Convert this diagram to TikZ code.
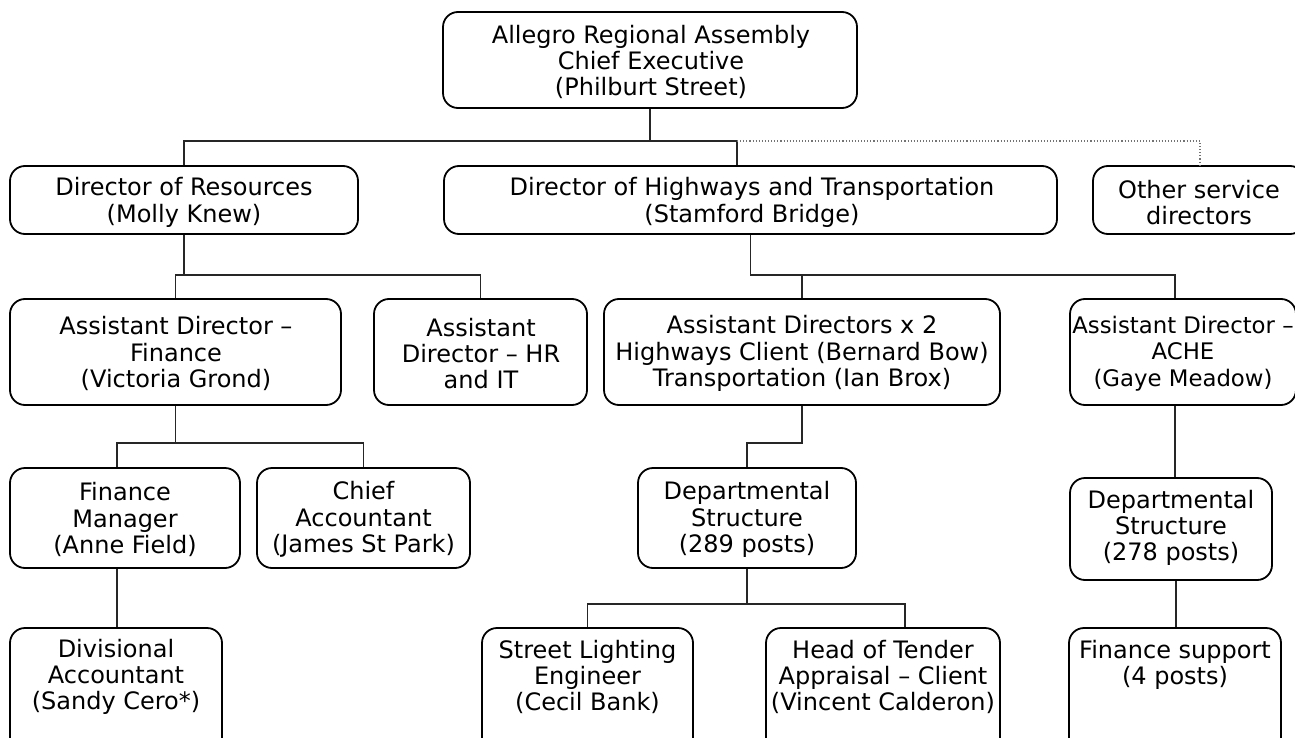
\documentclass[tikz,border=0pt]{standalone}
\usepackage{fontspec}
\setmainfont{DejaVu Sans}
% \orgunit[text options]{name}{box x}{box y}{width}{height}{text x}{text y}{text}
\newcommand\orgunit[9][]{%
  \node[orgbox, minimum width=#5pt, minimum height=#6pt] (#2) at (#3,#4) {};
  \node[orgtext,#1] (#2-text) at (#7,#8) {#9};}
\begin{document}
\begin{tikzpicture}[x=1pt,y=-1pt,
  orgbox/.style={draw=black, line width=1.8pt, rounded corners=15pt, inner sep=0pt},
  orgtext/.style={inner sep=0pt, align=center, font=\fontsize{24}{26.3}\selectfont},
  conn/.style={draw=black!85, line width=1.3pt},
  dotconn/.style={draw=black!55, line width=1.1pt, dotted}]
\useasboundingbox (0,0) rectangle (1295,738);
\clip (0,0) rectangle (1295,738);

\coordinate (bus1) at (0,141);
\coordinate (bus2) at (0,275);
\coordinate (bus3) at (0,443);
\coordinate (bus4) at (0,604);

% level 1
\orgunit{top}{650}{60}{414}{96}{651}{62}{Allegro Regional Assembly\\Chief Executive\\(Philburt Street)}
% level 2
\orgunit{res}{184}{200}{348}{68}{184}{202.5}{Director of Resources\\(Molly Knew)}
\orgunit{hwy}{750.5}{200}{613}{68}{752}{202.5}{Director of Highways and Transportation\\(Stamford Bridge)}
\orgunit{oth}{1199}{200}{212}{68}{1199}{202.5}{Other service\\directors}
% level 3
\orgunit{adf}{175.5}{352}{331}{106}{176}{353.5}{Assistant Director --\\Finance\\(Victoria Grond)}
\orgunit{adh}{480.5}{352}{213}{106}{481}{353.5}{Assistant\\Director -- HR\\and IT}
\orgunit{adx}{802}{352}{396}{106}{802}{353.5}{Assistant Directors x 2\\Highways Client (Bernard Bow)\\Transportation (Ian Brox)}
\orgunit[font=\fontsize{22.8}{26.3}\selectfont]{ach}{1183}{352}{226}{106}{1183}{353.5}{Assistant Director --\\ACHE\\(Gaye Meadow)}
% level 4
\orgunit{fm}{125}{518}{230}{100}{125}{519.5}{Finance\\Manager\\(Anne Field)}
\orgunit{ca}{363.5}{518}{213}{100}{363.5}{519.5}{Chief\\Accountant\\(James St Park)}
\orgunit{dsa}{747}{518}{218}{100}{747}{519.5}{Departmental\\Structure\\(289 posts)}
\orgunit{dsb}{1171}{529}{202}{102}{1171}{528}{Departmental\\Structure\\(278 posts)}
% level 5 (cut by the page edge)
\orgunit{da}{116}{699}{212}{142}{116}{677}{Divisional\\Accountant\\(Sandy Cero*)}
\orgunit{sl}{587.5}{699}{211}{142}{587.5}{677}{Street Lighting\\Engineer\\(Cecil Bank)}
\orgunit{ht}{883}{699}{234}{142}{883}{677}{Head of Tender\\Appraisal -- Client\\(Vincent Calderon)}
\orgunit{fs}{1175}{699}{212}{142}{1175}{665}{Finance support\\(4 posts)}

% connectors level 1-2
\draw[conn] (top.south) -- (top.south |- bus1);
\draw[conn] (res.north) |- ([xshift=-13.5pt]hwy.north |- bus1) -- ([xshift=-13.5pt]hwy.north);
\draw[dotconn] ([xshift=-13.5pt]hwy.north |- bus1) -| ([xshift=1pt]oth.north);
% level 2-3
\draw[conn] (res.south) -- (res.south |- bus2);
\draw[conn] (adf.north) |- (adh.north |- bus2) -- (adh.north);
\draw[conn] (hwy.south) |- ([xshift=-8pt]ach.north |- bus2) -- ([xshift=-8pt]ach.north);
\draw[conn] (adx.north) -- (adx.north |- bus2);
% level 3-4
\draw[conn] (adf.south) -- (adf.south |- bus3);
\draw[conn] ([xshift=-8pt]fm.north) |- (ca.north |- bus3) -- (ca.north);
\draw[conn] (adx.south) |- (dsa.north |- bus3) -- (dsa.north);
\draw[conn] ([xshift=-8pt]ach.south) -- ([xshift=-8pt]ach.south |- dsb.north);
% level 4-5
\draw[conn] ([xshift=-8pt]fm.south) -- ([xshift=-8pt]fm.south |- da.north);
\draw[conn] (dsa.south) -- (dsa.south |- bus4);
\draw[conn] (sl.north) |- ([xshift=22pt]ht.north |- bus4) -- ([xshift=22pt]ht.north);
\draw[conn] ([xshift=5pt]dsb.south) -- ([xshift=5pt]dsb.south |- fs.north);
\end{tikzpicture}
\end{document}
